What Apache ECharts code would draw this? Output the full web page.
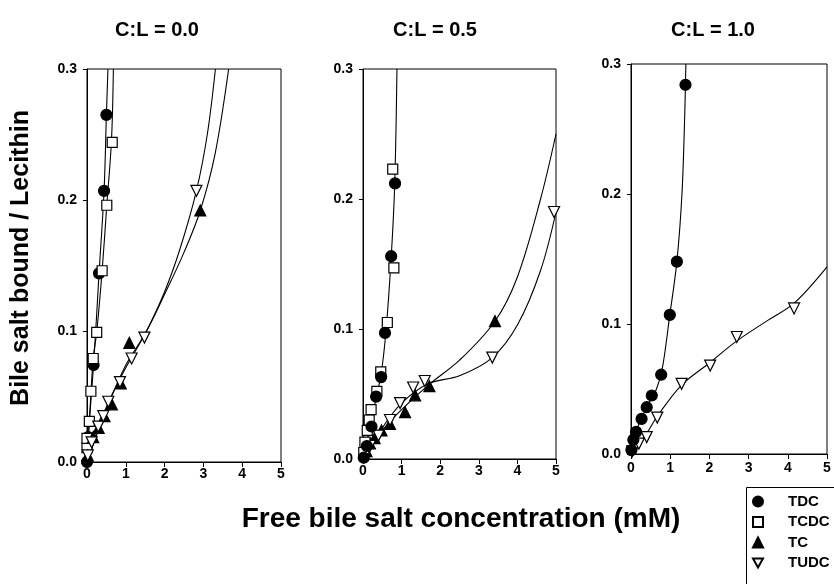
<!DOCTYPE html>
<html><head><meta charset="utf-8">
<script src="https://cdn.jsdelivr.net/npm/echarts@6/dist/echarts.min.js"></script>
<style>html,body{margin:0;padding:0;background:#fff}#c{width:834px;height:584px}</style>
</head><body><div id="c"></div>
<script>
// ---- data (x = free bile salt mM, y = bound/lecithin) ----
const panelTitles = ['C:L = 0.0', 'C:L = 0.5', 'C:L = 1.0'];
const xTicks = [0, 1, 2, 3, 4, 5];
const yTicks = [0.0, 0.1, 0.2, 0.3];
const seriesNames = ['TDC', 'TCDC', 'TC', 'TUDC'];

// Panel 1: C:L = 0.0
const p1_TDC  = [[0,0],[0.03,0.019],[0.17,0.074],[0.31,0.144],[0.44,0.207],[0.5,0.265]];
const p1_TCDC = [[0.0,0.011],[0.0,0.018],[0.06,0.031],[0.1,0.054],[0.16,0.079],[0.25,0.099],[0.39,0.146],[0.51,0.196],[0.65,0.244]];
const p1_TC   = [[0.02,0.005],[0.16,0.019],[0.3,0.026],[0.45,0.035],[0.64,0.044],[0.87,0.06],[1.09,0.091],[2.92,0.192]];
const p1_TUDC = [[0.02,0.005],[0.12,0.015],[0.29,0.027],[0.42,0.035],[0.55,0.046],[0.85,0.061],[1.15,0.079],[1.48,0.095],[2.82,0.207]];
const p1_fit_TDC  = [[0,0],[0.03,0.019],[0.17,0.074],[0.31,0.144],[0.44,0.207],[0.5,0.265],[0.54,0.3]];
const p1_fit_TCDC = [[0,0],[0.06,0.031],[0.16,0.079],[0.25,0.099],[0.39,0.146],[0.51,0.196],[0.63,0.245],[0.68,0.3]];
const p1_fit_TC   = [[0,0],[0.5,0.04],[1.0,0.074],[1.5,0.098],[2.0,0.128],[2.5,0.16],[2.92,0.192],[3.3,0.235],[3.65,0.3]];
const p1_fit_TUDC = [[0,0],[0.5,0.042],[1.0,0.072],[1.5,0.098],[2.0,0.13],[2.4,0.163],[2.82,0.207],[3.1,0.25],[3.31,0.3]];

// Panel 2: C:L = 0.5
const p2_TDC  = [[0.02,0.001],[0.1,0.01],[0.22,0.025],[0.34,0.048],[0.47,0.063],[0.57,0.097],[0.73,0.156],[0.83,0.212]];
const p2_TCDC = [[0.02,0.005],[0.05,0.013],[0.11,0.022],[0.16,0.03],[0.21,0.038],[0.36,0.052],[0.46,0.067],[0.63,0.105],[0.8,0.147],[0.77,0.223]];
const p2_TC   = [[0.09,0.006],[0.18,0.012],[0.3,0.016],[0.48,0.022],[0.7,0.027],[1.09,0.036],[1.35,0.049],[1.72,0.056],[3.42,0.106]];
const p2_TUDC = [[0.05,0.003],[0.18,0.01],[0.4,0.018],[0.7,0.03],[0.96,0.043],[1.3,0.055],[1.6,0.06],[3.35,0.078],[4.95,0.19]];
const p2_fit_TDC  = [[0,0],[0.1,0.013],[0.22,0.03],[0.36,0.05],[0.47,0.065],[0.6,0.1],[0.73,0.155],[0.82,0.21],[0.88,0.3]];
const p2_fit_TC   = [[0,0],[0.5,0.022],[1.0,0.038],[1.7,0.057],[2.5,0.076],[3.42,0.106],[4.0,0.14],[4.6,0.2],[5,0.25]];
const p2_fit_TUDC = [[0,0],[0.5,0.024],[1.0,0.043],[1.7,0.058],[2.5,0.064],[3.35,0.078],[4.0,0.103],[4.6,0.145],[5,0.19]];

// Panel 3: C:L = 1.0
const p3_TDC  = [[0.01,0.003],[0.06,0.011],[0.13,0.017],[0.27,0.027],[0.4,0.036],[0.53,0.045],[0.77,0.061],[0.99,0.107],[1.17,0.148],[1.39,0.284]];
const p3_TUDC = [[0.03,0.002],[0.1,0.005],[0.2,0.008],[0.4,0.013],[0.67,0.028],[1.29,0.054],[2.02,0.068],[2.7,0.09],[4.16,0.112]];
const p3_fit_TDC  = [[0,0],[0.13,0.017],[0.4,0.036],[0.65,0.05],[0.8,0.066],[0.99,0.107],[1.17,0.148],[1.3,0.2],[1.37,0.26],[1.4,0.3]];
const p3_fit_TUDC = [[0,0],[0.4,0.016],[0.67,0.029],[1.29,0.053],[2.0,0.07],[2.7,0.087],[3.5,0.103],[4.16,0.116],[5,0.144]];

// ---- styling ----
const FONT = '"Liberation Sans", Arial, sans-serif';
const DOWN_TRI = 'path://M0,0L10,0L5,9Z';
const sym = {
  TDC:  {symbol:'circle', size:11, rot:0, fill:'#000'},
  TCDC: {symbol:'rect', size:10, rot:0, fill:'#fff'},
  TC:   {symbol:'triangle', size:11, rot:0, fill:'#000'},
  TUDC: {symbol:'triangle', size:11, rot:180, fill:'#fff'}
};
const legendIcons = {TDC:'circle', TCDC:'rect', TC:'triangle', TUDC:DOWN_TRI};
const grids = [
  {left:87, top:69, width:194, height:393},
  {left:363, top:69, width:193, height:390},
  {left:631, top:64, width:196, height:390}
];
const xLabelMargin = [5, 5, 7];

const xAxes = grids.map((g,i)=>({
  type:'value', gridIndex:i, min:xTicks[0], max:xTicks[xTicks.length-1], interval:1,
  axisLine:{show:true, onZero:false, lineStyle:{color:'#000', width:1}},
  axisTick:{show:true, length:5, inside:false, lineStyle:{color:'#000'}},
  axisLabel:{color:'#000', fontWeight:'bold', fontSize:14, fontFamily:FONT, margin:xLabelMargin[i]},
  splitLine:{show:false}
}));
const yAxes = grids.map((g,i)=>({
  type:'value', gridIndex:i, min:yTicks[0], max:yTicks[yTicks.length-1], interval:0.1,
  axisLine:{show:true, onZero:false, lineStyle:{color:'#000', width:1}},
  axisTick:{show:true, length:4, inside:false, lineStyle:{color:'#000'}},
  axisLabel:{color:'#000', fontWeight:'bold', fontSize:14, fontFamily:FONT, margin:10,
             formatter:v=>v.toFixed(1)},
  splitLine:{show:false}
}));

function scat(name, data, gi){
  const s = sym[name];
  return {type:'scatter', name, data, xAxisIndex:gi, yAxisIndex:gi,
    symbol:s.symbol, symbolSize:s.size, symbolRotate:s.rot, z:5,
    itemStyle:{color:s.fill, borderColor:'#000', borderWidth:1.2, opacity:1}};
}
function fit(data, gi){
  return {type:'line', name:'fit', data, xAxisIndex:gi, yAxisIndex:gi,
    smooth:0.35, showSymbol:false, symbol:'none', clip:true, z:3, silent:true,
    lineStyle:{color:'#000', width:1.1}};
}

const series = [
  fit(p1_fit_TDC,0), fit(p1_fit_TCDC,0), fit(p1_fit_TC,0), fit(p1_fit_TUDC,0),
  scat('TDC',p1_TDC,0), scat('TCDC',p1_TCDC,0), scat('TC',p1_TC,0), scat('TUDC',p1_TUDC,0),
  fit(p2_fit_TDC,1), fit(p2_fit_TC,1), fit(p2_fit_TUDC,1),
  scat('TC',p2_TC,1), scat('TUDC',p2_TUDC,1), scat('TCDC',p2_TCDC,1), scat('TDC',p2_TDC,1),
  fit(p3_fit_TDC,2), fit(p3_fit_TUDC,2),
  scat('TUDC',p3_TUDC,2), scat('TDC',p3_TDC,2)
];

const titleCenters = [157, 435, 713];
const graphic = [
  ...panelTitles.map((t,i)=>({type:'text', x:titleCenters[i], y:30,
    style:{text:t, fill:'#000', font:'bold 20px '+FONT, textAlign:'center', textVerticalAlign:'middle'}})),
  {type:'text', x:21, y:258, rotation:Math.PI/2,
    style:{text:'Bile salt bound / Lecithin', fill:'#000', font:'bold 25px '+FONT, textAlign:'center', textVerticalAlign:'middle'}},
  {type:'text', x:461, y:519,
    style:{text:'Free bile salt concentration (mM)', fill:'#000', font:'bold 28px '+FONT, textAlign:'center', textVerticalAlign:'middle'}},
  {type:'rect', shape:{x:746.5, y:487.5, width:100, height:110}, style:{fill:'none', stroke:'#000', lineWidth:1}, z:1}
];

const legendData = seriesNames.map(n => ({name:n, icon:legendIcons[n]}));

const chart = echarts.init(document.getElementById('c'), null, {renderer:'canvas'});
chart.setOption({
  animation:false,
  backgroundColor:'#fff',
  grid: grids.map(g=>Object.assign({show:true, borderColor:'#000', borderWidth:1, backgroundColor:'transparent'}, g)),
  xAxis:xAxes, yAxis:yAxes,
  legend:{data:legendData, orient:'vertical', left:752, top:494, padding:0,
    itemWidth:10, itemHeight:10, itemGap:5.5, symbolKeepAspect:true,
    textStyle:{color:'#000', fontWeight:'bold', fontSize:15, lineHeight:15, fontFamily:FONT, padding:[0,0,0,20]},
    selectedMode:false},
  series, graphic
});
</script></body></html>
